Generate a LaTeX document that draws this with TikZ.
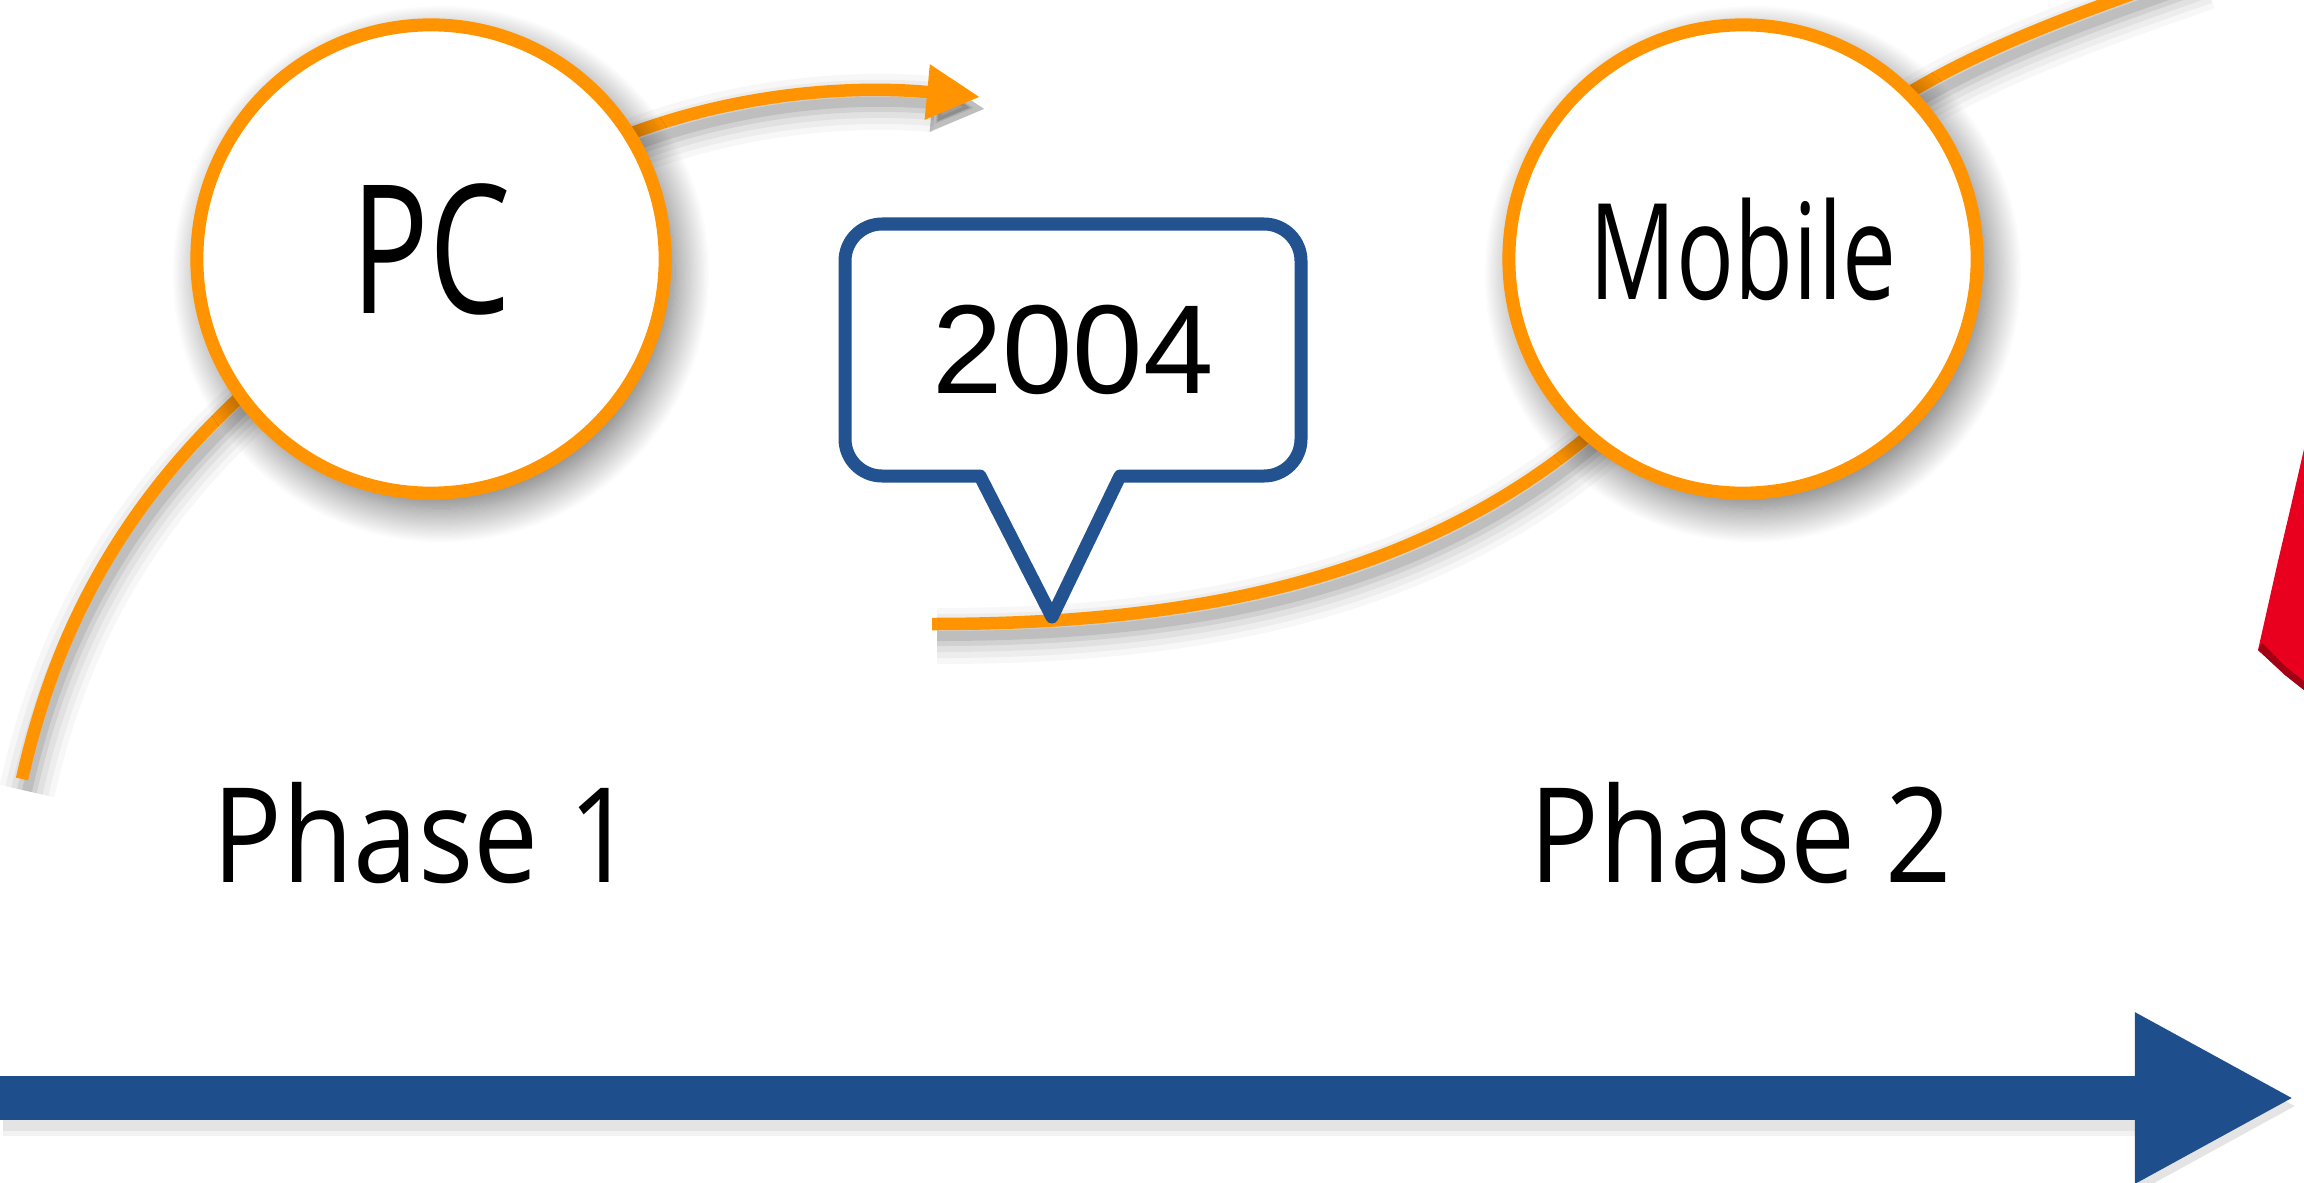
\documentclass[tikz,border=0pt]{standalone}
\usepackage{fontspec}
\setmainfont{Open Sans}
\newfontfamily\hubfont[FakeStretch=0.72]{Open Sans}
\newfontfamily\phasefont[FakeStretch=0.88]{Open Sans}
\newfontfamily\yearfont{Liberation Sans}
\usetikzlibrary{arrows.meta,backgrounds,shadows.blur}

\definecolor{trackorange}{RGB}{255,148,0}
\definecolor{timeblue}{RGB}{31,78,140}
\definecolor{bubbleblue}{RGB}{34,82,144}
\definecolor{flagred}{RGB}{232,0,30}

\begin{document}
\begin{tikzpicture}[x=0.01cm, y=-0.01cm,
	track/.style={draw=trackorange, line width=0.125cm},
	softshadow/.style={
		preaction={draw=black, opacity=0.03, line width=0.56cm, transform canvas={xshift=0.05cm, yshift=-0.12cm}},
		preaction={draw=black, opacity=0.04, line width=0.44cm, transform canvas={xshift=0.05cm, yshift=-0.12cm}},
		preaction={draw=black, opacity=0.05, line width=0.32cm, transform canvas={xshift=0.05cm, yshift=-0.12cm}},
		preaction={draw=black, opacity=0.07, line width=0.2cm, transform canvas={xshift=0.05cm, yshift=-0.12cm}},
		preaction={draw=black, opacity=0.09, line width=0.1cm, transform canvas={xshift=0.05cm, yshift=-0.12cm}}},
	hub/.style={circle, draw=trackorange, fill=white, line width=0.13cm, minimum size=4.68cm, inner sep=0pt, text depth=0.2cm,
		blur shadow={shadow xshift=0.1cm, shadow yshift=-0.15cm, shadow blur radius=0.35cm, shadow blur steps=30, shadow opacity=60}},
	phase/.style={anchor=base, font=\phasefont\fontsize{37.5}{40}\selectfont}]

			\useasboundingbox (0,0) rectangle (2304,1182);

			% Phases
			\node[hub, font=\hubfont\fontsize{51}{55}\selectfont] (pc) at (431,259) {PC};
			\node[hub, font=\hubfont\fontsize{38}{42}\selectfont] (mobile) at (1743,259) {Mobile};

			% Free ends of the track
			\coordinate (origin) at (22,779);
			\coordinate (next) at (980,97);
			\coordinate (gap) at (932,624);
			\coordinate (beyond) at (2200,-30);
			\coordinate (tstart) at (0,1098);
			\coordinate (tend) at (2295,1098);

			\begin{scope}[on background layer]
				% Time axis
				\draw[timeblue, line width=0.44cm, -{Triangle[length=1.6cm, width=1.59cm]},
					preaction={draw=black, opacity=0.05, line width=0.6cm, transform canvas={xshift=0.03cm, yshift=-0.08cm}},
					preaction={draw=black, opacity=0.06, line width=0.5cm, transform canvas={xshift=0.03cm, yshift=-0.08cm}}] (tstart) -- (tend);

				% Orange track behind the circles
				\draw[track, softshadow] (origin) .. controls (60,610) and (150,420) .. (pc.center);
				\draw[track, softshadow, -{Triangle[length=0.53cm, width=0.52cm]}] (pc.center) .. controls (580,110) and (800,80) .. (next);
				\draw[track, softshadow] (gap) .. controls (1250,624) and (1550,560) .. (mobile.center);
				\draw[track, softshadow] (mobile.center) .. controls (1830,100) and (2000,40) .. (beyond);
			\end{scope}

			% Red object at the edge
			\fill[flagred] (2304,449) -- (2290,510) -- (2278,561) -- (2258,650) -- (2285,675) -- (2304,690) -- cycle;
			\fill[flagred!70!black] (2258,650) -- (2285,675) -- (2304,690) -- (2304,681) -- (2286,667) -- (2262,643) -- cycle;

			% Year callout
			\node[anchor=base, font=\yearfont\fontsize{36}{40}\selectfont] (year) at (1073,393) {2004};
			\draw[bubbleblue, line width=0.13cm, line join=round]
			(1120,476) -- (1264,476) arc[start angle=90, end angle=0, radius=37]
			-- (1301,261) arc[start angle=0, end angle=-90, radius=37]
			-- (882,224) arc[start angle=-90, end angle=-180, radius=37]
			-- (845,439) arc[start angle=180, end angle=90, radius=37]
			-- (980,476) -- (1052,617) -- cycle;

			% Labels
			\node[phase] (phase1) at (424,882) {Phase 1};
			\node[phase] (phase2) at (1741,882) {Phase 2};

		\end{tikzpicture}
\end{document}
